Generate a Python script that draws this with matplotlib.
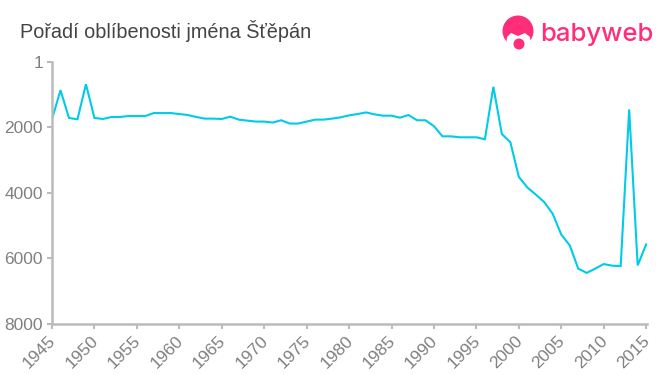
import matplotlib
matplotlib.use("Agg")
import matplotlib.pyplot as plt
from matplotlib.patches import Circle, Polygon
from matplotlib.transforms import ScaledTranslation

plt.rcParams['font.family'] = ['Liberation Sans', 'DejaVu Sans']

# Data
years = list(range(1945, 2016))
rank = [1750, 860, 1710, 1750, 680, 1710, 1740, 1680, 1680, 1650,
        1650, 1650, 1560, 1560, 1560, 1590, 1620, 1680, 1730, 1730,
        1740, 1670, 1760, 1790, 1820, 1820, 1850, 1780, 1880, 1880,
        1820, 1760, 1760, 1730, 1690, 1630, 1590, 1540, 1600, 1640,
        1640, 1700, 1620, 1780, 1780, 1960, 2270, 2270, 2300, 2300,
        2300, 2360, 760, 2200, 2450, 3510, 3830, 4050, 4280, 4640,
        5270, 5600, 6310, 6440, 6310, 6170, 6220, 6230, 1450, 6210,
        5570]
y_ticks = [1, 2000, 4000, 6000, 8000]
y_labels = ["1", "2000", "4000", "6000", "8000"]
x_ticks = list(range(1945, 2016, 5))
title = "Pořadí oblíbenosti jména Šťěpán"

fig = plt.figure(figsize=(6.6, 3.75), dpi=100)
ax = fig.add_axes([52 / 660, 1 - 324 / 375, (647 - 52) / 660, (324 - 62) / 375])

ax.plot(years, rank, color="#00cbe9", linewidth=1.5, solid_joinstyle="miter")
ax.set_xlim(1945, 2015.1)
ax.set_ylim(8000, 1)

for s in ["top", "right"]:
    ax.spines[s].set_visible(False)
for s in ["left", "bottom"]:
    ax.spines[s].set_color("#bbbbbb")
    ax.spines[s].set_linewidth(1.8)

ax.set_yticks(y_ticks)
ax.set_yticklabels(y_labels, fontsize=12.5, color="#808080")
ax.set_xticks(x_ticks)
ax.set_xticklabels(x_ticks, fontsize=12.5, color="#808080", rotation=45,
                   ha="right", rotation_mode="anchor")
ax.tick_params(axis="both", color="#bbbbbb", width=1.5, length=3.5, pad=3)

# posun popisku let doleva
shift = ScaledTranslation(-4 / 100, 0, fig.dpi_scale_trans)
for lab in ax.get_xticklabels():
    lab.set_transform(lab.get_transform() + shift)

fig.text(20 / 660, 1 - 31 / 375, title, fontsize=14.35, color="#444444",
         va="center", ha="left")

# Logo
logo = fig.add_axes([0, 0, 1, 1], facecolor="none")
logo.set_xlim(0, 660)
logo.set_ylim(375, 0)
logo.axis("off")
pink = "#ff2d7a"
logo.add_patch(Circle((518, 31), 15.5, color=pink, lw=0))
logo.add_patch(Polygon([(506, 46), (507, 37), (511, 33), (518, 36), (525, 33),
                        (530, 37), (531, 46), (518, 52)], color="white", lw=0))
logo.add_patch(Circle((519, 44), 5.5, color=pink, lw=0))
logo.text(540, 35, "babyweb", fontsize=18.5, color=pink, va="center", ha="left",
          family=["Inter", "DejaVu Sans"], fontweight="medium")

fig.savefig("out.png", dpi=100)
